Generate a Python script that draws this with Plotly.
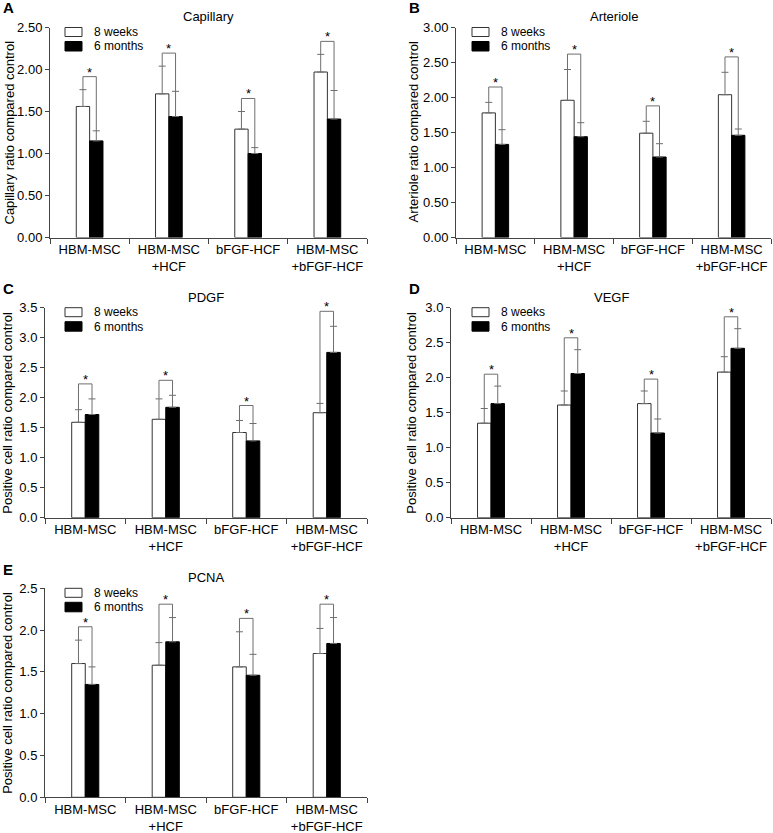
import plotly.graph_objects as go

# ---------------- data ----------------
CATEGORIES = ["HBM-MSC", "HBM-MSC<br>+HCF", "bFGF-HCF", "HBM-MSC<br>+bFGF-HCF"]
SERIES = ["8 weeks", "6 months"]

CAP_8W = [1.56, 1.71, 1.29, 1.97]
CAP_8W_ERR = [0.20, 0.33, 0.21, 0.21]
CAP_6M = [1.15, 1.44, 1.00, 1.41]
CAP_6M_ERR = [0.12, 0.30, 0.07, 0.34]

ART_8W = [1.78, 1.96, 1.49, 2.04]
ART_8W_ERR = [0.15, 0.44, 0.17, 0.32]
ART_6M = [1.33, 1.44, 1.15, 1.46]
ART_6M_ERR = [0.21, 0.20, 0.19, 0.09]

PDGF_8W = [1.59, 1.64, 1.42, 1.75]
PDGF_8W_ERR = [0.21, 0.34, 0.20, 0.155]
PDGF_6M = [1.72, 1.84, 1.28, 2.755]
PDGF_6M_ERR = [0.26, 0.20, 0.29, 0.435]

VEGF_8W = [1.35, 1.61, 1.63, 2.08]
VEGF_8W_ERR = [0.21, 0.20, 0.18, 0.22]
VEGF_6M = [1.63, 2.06, 1.21, 2.42]
VEGF_6M_ERR = [0.25, 0.34, 0.20, 0.28]

PCNA_8W = [1.60, 1.58, 1.56, 1.72]
PCNA_8W_ERR = [0.28, 0.27, 0.42, 0.30]
PCNA_6M = [1.35, 1.86, 1.46, 1.84]
PCNA_6M_ERR = [0.21, 0.29, 0.25, 0.31]

# ---------------- layout constants ----------------
W, H = 773, 833
FONT = "Liberation Sans, Arial, Helvetica, sans-serif"
FS = 13
LFS = 12
AXIS_COLOR = "#444444"
ERR_COLOR = "#6e6e6e"
BARGAP = 0.663
HALF = (1 - BARGAP) / 4  # offset of each bar centre from category centre

panels = [
    dict(letter="A", title="Capillary", ytitle="Capillary ratio compared control",
         ymax=2.5, fmt=".2f", w=CAP_8W, we=CAP_8W_ERR, m=CAP_6M, me=CAP_6M_ERR,
         px=(50, 367), py=(27.5, 237.5), letter_xy=(1, 8), ytx=9, lgx=65, off=0.155),
    dict(letter="B", title="Arteriole", ytitle="Arteriole ratio compared control",
         ymax=3.0, fmt=".2f", w=ART_8W, we=ART_8W_ERR, m=ART_6M, me=ART_6M_ERR,
         px=(456, 771), py=(27.5, 237.5), letter_xy=(407, 8), ytx=413, lgx=472, off=0.22),
    dict(letter="C", title="PDGF", ytitle="Positive cell ratio compared control",
         ymax=3.5, fmt=".1f", w=PDGF_8W, we=PDGF_8W_ERR, m=PDGF_6M, me=PDGF_6M_ERR,
         px=(45, 367), py=(307.7, 517.7), letter_xy=(1, 288), ytx=8, lgx=65, off=0.25),
    dict(letter="D", title="VEGF", ytitle="Positive cell ratio compared control",
         ymax=3.0, fmt=".1f", w=VEGF_8W, we=VEGF_8W_ERR, m=VEGF_6M, me=VEGF_6M_ERR,
         px=(451, 771), py=(307.7, 517.7), letter_xy=(407, 288), ytx=412, lgx=472, off=0.17),
    dict(letter="E", title="PCNA", ytitle="Positive cell ratio compared control",
         ymax=2.5, fmt=".1f", w=PCNA_8W, we=PCNA_8W_ERR, m=PCNA_6M, me=PCNA_6M_ERR,
         px=(45, 367), py=(588.3, 797.3), letter_xy=(1, 569), ytx=8, lgx=65, off=0.16),
]

fig = go.Figure()
shapes = []
annotations = []
layout_axes = {}

for i, p in enumerate(panels, start=1):
    xa = "x" if i == 1 else f"x{i}"
    ya = "y" if i == 1 else f"y{i}"
    xkey = "xaxis" if i == 1 else f"xaxis{i}"
    ykey = "yaxis" if i == 1 else f"yaxis{i}"
    top, bot = p["py"]
    ph = bot - top

    def yd(px_off):
        return 1 - px_off / ph

    # bars
    fig.add_trace(go.Bar(
        x=CATEGORIES, y=p["w"], name=SERIES[0], xaxis=xa, yaxis=ya, showlegend=False,
        marker=dict(color="white", line=dict(color="#333333", width=1)),
        error_y=dict(type="data", array=p["we"], arrayminus=[0] * len(p["we"]),
                     symmetric=False, color=ERR_COLOR, thickness=1, width=3.5),
    ))
    fig.add_trace(go.Bar(
        x=CATEGORIES, y=p["m"], name=SERIES[1], xaxis=xa, yaxis=ya, showlegend=False,
        marker=dict(color="black", line=dict(color="black", width=1)),
        error_y=dict(type="data", array=p["me"], arrayminus=[0] * len(p["me"]),
                     symmetric=False, color=ERR_COLOR, thickness=1, width=3.5),
    ))

    layout_axes[xkey] = dict(
        domain=[p["px"][0] / W, p["px"][1] / W], anchor=ya, type="category",
        categoryorder="array", categoryarray=CATEGORIES, range=[-0.5, 3.5],
        tickson="boundaries", ticks="outside", ticklen=5, tickcolor=AXIS_COLOR,
        showline=True, linecolor=AXIS_COLOR, linewidth=1, showgrid=False,
        zeroline=False, tickfont=dict(family=FONT, size=FS, color="black"),
        tickangle=0, automargin=False, fixedrange=True,
    )
    layout_axes[ykey] = dict(
        domain=[1 - bot / H, 1 - top / H], anchor=xa, range=[0, p["ymax"]],
        dtick=0.5, tick0=0, tickformat=p["fmt"], ticks="outside", ticklen=4,
        tickcolor=AXIS_COLOR, showline=True, linecolor=AXIS_COLOR, linewidth=1,
        showgrid=False, zeroline=False,
        tickfont=dict(family=FONT, size=FS, color="black"),
        automargin=False, fixedrange=True,
    )

    # significance brackets
    for k in range(len(CATEGORIES)):
        wt = p["w"][k] + p["we"][k]
        mt = p["m"][k] + p["me"][k]
        yb = max(wt, mt) + p["off"]
        xl, xr = k - HALF, k + HALF
        line = dict(color=ERR_COLOR, width=1)
        shapes.append(dict(type="line", xref=xa, yref=ya, x0=xl, x1=xl, y0=wt, y1=yb, line=line))
        shapes.append(dict(type="line", xref=xa, yref=ya, x0=xl, x1=xr, y0=yb, y1=yb, line=line))
        shapes.append(dict(type="line", xref=xa, yref=ya, x0=xr, x1=xr, y0=mt, y1=yb, line=line))
        annotations.append(dict(text="*", xref=xa, yref=ya, x=k, y=yb, xanchor="center",
                                yanchor="bottom", yshift=-5, showarrow=False,
                                font=dict(family=FONT, size=FS, color="black")))

    # legend (drawn)
    lgx = p["lgx"]
    shapes.append(dict(type="rect", xref="paper", yref=f"{ya} domain",
                       x0=lgx / W, x1=(lgx + 17) / W, y0=yd(9), y1=yd(0),
                       fillcolor="white", line=dict(color="#333333", width=1)))
    shapes.append(dict(type="rect", xref="paper", yref=f"{ya} domain",
                       x0=lgx / W, x1=(lgx + 17) / W, y0=yd(23.5), y1=yd(14),
                       fillcolor="black", line=dict(color="black", width=1)))
    for txt, yc in ((SERIES[0], 4.5), (SERIES[1], 19)):
        annotations.append(dict(text=txt, xref="paper", yref=f"{ya} domain",
                                x=(lgx + 27) / W, y=yd(yc), xanchor="left", yanchor="middle",
                                showarrow=False, font=dict(family=FONT, size=LFS, color="black")))

    # title
    annotations.append(dict(text=p["title"], xref=f"{xa} domain", yref=f"{ya} domain",
                            x=0.5, y=1, xanchor="center", yanchor="bottom", yshift=1,
                            showarrow=False, font=dict(family=FONT, size=FS, color="black")))
    # y axis title
    annotations.append(dict(text=p["ytitle"], xref="paper", yref=f"{ya} domain",
                            x=p["ytx"] / W, y=0.5, xanchor="center", yanchor="middle",
                            textangle=-90, showarrow=False,
                            font=dict(family=FONT, size=FS, color="black")))
    # panel letter
    lx, ly = p["letter_xy"]
    annotations.append(dict(text=f"<b>{p['letter']}</b>", xref="paper", yref="paper",
                            x=lx / W, y=1 - ly / H, xanchor="left", yanchor="middle",
                            showarrow=False, font=dict(family=FONT, size=15, color="black")))

fig.update_layout(
    width=W, height=H, margin=dict(l=0, r=0, t=0, b=0, autoexpand=False),
    paper_bgcolor="white", plot_bgcolor="white",
    barmode="group", bargap=BARGAP, bargroupgap=0,
    showlegend=False, shapes=shapes, annotations=annotations,
    font=dict(family=FONT, size=FS, color="black"),
    **layout_axes,
)

fig.write_html("out.html", config={"displayModeBar": False},
               post_script="document.body.style.margin='0';document.body.style.overflow='hidden';")
